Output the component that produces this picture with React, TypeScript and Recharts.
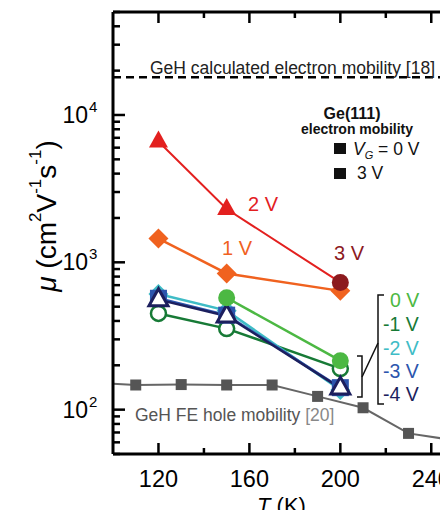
import { LineChart, Line, XAxis, YAxis, ReferenceLine } from "recharts";

// temperatures (K)
const T3 = [120, 150, 200];
const T0V = [150, 200];
const T3V = [200];
const feT = [100, 110, 130, 150, 170, 190, 210, 230, 250];

// mobilities (cm2/Vs)
const mu2V = [6600, 2300, 730];
const mu1V = [1450, 840, 640];
const mu3V = [730];
const mu0V = [575, 215];
const muM1V = [450, 355, 190];
const muM2V = [610, 470, 136];
const muM3V = [570, 438, 141];
const muM4V = [558, 432, 140];
const feMu = [150, 147, 148, 147, 147, 123, 103, 69, 62];
const calcMu = 18000;

const xTicks = [120, 140, 160, 180, 200, 220, 240];
const xLabels = [120, 160, 200, 240];
const yTicks = [
  50, 60, 70, 80, 90, 100, 200, 300, 400, 500, 600, 700, 800, 900, 1000, 2000, 3000, 4000, 5000,
  6000, 7000, 8000, 9000, 10000, 20000, 30000, 40000, 50000,
];
const yLabels = [100, 1000, 10000];

const pts = (t: number[], m: number[]) => t.map((T, i) => ({ T, mu: m[i] }));

const RED = "#e3201f";
const ORANGE = "#f0621f";
const DARKRED = "#8c1a1e";
const GREEN = "#4cb843";
const DKGREEN = "#177a36";
const CYAN = "#3fbcc6";
const BLUE = "#2c55ad";
const NAVY = "#1c1f5e";
const GRAY = "#555";

const tri = (cx: number, cy: number) => `${cx},${cy - 11} ${cx - 9.5},${cy + 6} ${cx + 9.5},${cy + 6}`;
const dia = (cx: number, cy: number, r: number) =>
  `${cx},${cy - r} ${cx + r},${cy} ${cx},${cy + r} ${cx - r},${cy}`;

function XTick(props: any) {
  const { x, y, payload, top } = props;
  const major = xLabels.includes(payload.value);
  const len = major ? 11 : 6;
  return (
    <g>
      <line x1={x} x2={x} y1={y} y2={top ? y + len : y - len} stroke="#000" strokeWidth={2.5} />
      {!top && major && (
        <text x={x} y={y + 33} textAnchor="middle" fontSize={23.5} fill="#000">
          {payload.value}
        </text>
      )}
    </g>
  );
}

function YTick(props: any) {
  const { x, y, payload, right } = props;
  const major = yLabels.includes(payload.value);
  const len = right ? (major ? 14 : 9) : major ? 12 : 7;
  return (
    <g>
      <line x1={x} x2={right ? x - len : x + len} y1={y} y2={y} stroke="#000" strokeWidth={2.5} />
      {!right && major && (
        <g fill="#000">
          <text x={x - 25} y={y + 8} textAnchor="end" fontSize={23}>
            10
          </text>
          <text x={x - 24} y={y - 3} fontSize={15}>
            {Math.round(Math.log10(payload.value))}
          </text>
        </g>
      )}
    </g>
  );
}

export default function App() {
  return (
    <div
      style={{
        position: "relative",
        width: 448,
        height: 518,
        overflow: "hidden",
        margin: -8,
        background: "#fff",
        fontFamily: "'Liberation Sans', Arial, sans-serif",
      }}
    >
      <LineChart width={480} height={518} margin={{ top: 11, right: 0, bottom: 34, left: 53 }}>
        <XAxis
          xAxisId="b"
          type="number"
          dataKey="T"
          domain={[100, 250]}
          allowDataOverflow
          ticks={xTicks}
          interval={0}
          tickSize={0}
          tickMargin={0}
          height={30}
          axisLine={{ stroke: "#000", strokeWidth: 3 }}
          tick={<XTick />}
        />
        <XAxis
          xAxisId="t"
          orientation="top"
          type="number"
          dataKey="T"
          domain={[100, 250]}
          allowDataOverflow
          ticks={xTicks}
          interval={0}
          tickSize={0}
          tickMargin={0}
          height={1}
          axisLine={{ stroke: "#000", strokeWidth: 3 }}
          tick={<XTick top />}
        />
        <YAxis
          yAxisId="l"
          scale="log"
          domain={[50, 50000]}
          allowDataOverflow
          ticks={yTicks}
          interval={0}
          tickSize={0}
          tickMargin={0}
          width={60}
          axisLine={{ stroke: "#000", strokeWidth: 3 }}
          tick={<YTick />}
        />
        <YAxis
          yAxisId="r"
          orientation="right"
          scale="log"
          domain={[50, 50000]}
          allowDataOverflow
          ticks={yTicks}
          interval={0}
          tickSize={0}
          tickMargin={0}
          width={26}
          axisLine={{ stroke: "#000", strokeWidth: 3 }}
          tick={<YTick right />}
        />
        <ReferenceLine
          xAxisId="b"
          yAxisId="l"
          y={calcMu}
          stroke="#000"
          strokeWidth={2.5}
          strokeDasharray="8 5"
        />
        <Line
          xAxisId="b"
          yAxisId="l"
          data={pts(feT, feMu)}
          dataKey="mu"
          stroke="#666"
          strokeWidth={2}
          isAnimationActive={false}
          activeDot={false}
          dot={(p: any) =>
            p.payload.T > 100 && p.payload.T < 250 ? (
              <rect key={p.index} x={p.cx - 5.5} y={p.cy - 5.5} width={11} height={11} fill={GRAY} />
            ) : (
              <g key={p.index} />
            )
          }
        />
        <Line
          xAxisId="b"
          yAxisId="l"
          data={pts(T3, muM1V)}
          dataKey="mu"
          stroke={DKGREEN}
          strokeWidth={2.5}
          isAnimationActive={false}
          activeDot={false}
          dot={(p: any) => (
            <circle key={p.index} cx={p.cx} cy={p.cy} r={7.5} fill="#fff" stroke={DKGREEN} strokeWidth={2.5} />
          )}
        />
        <Line
          xAxisId="b"
          yAxisId="l"
          data={pts(T3, muM2V)}
          dataKey="mu"
          stroke={CYAN}
          strokeWidth={2.5}
          isAnimationActive={false}
          activeDot={false}
          dot={(p: any) => <polygon key={p.index} points={dia(p.cx, p.cy, 10)} fill={CYAN} />}
        />
        <Line
          xAxisId="b"
          yAxisId="l"
          data={pts(T3, muM3V)}
          dataKey="mu"
          stroke={BLUE}
          strokeWidth={2.5}
          isAnimationActive={false}
          activeDot={false}
          dot={(p: any) => (
            <rect key={p.index} x={p.cx - 8.5} y={p.cy - 8.5} width={17} height={17} fill={BLUE} />
          )}
        />
        <Line
          xAxisId="b"
          yAxisId="l"
          data={pts(T3, muM4V)}
          dataKey="mu"
          stroke={NAVY}
          strokeWidth={2.5}
          isAnimationActive={false}
          activeDot={false}
          dot={(p: any) => (
            <polygon key={p.index} points={tri(p.cx, p.cy)} fill="#fff" stroke={NAVY} strokeWidth={3} />
          )}
        />
        <Line
          xAxisId="b"
          yAxisId="l"
          data={pts(T0V, mu0V)}
          dataKey="mu"
          stroke={GREEN}
          strokeWidth={2.5}
          isAnimationActive={false}
          activeDot={false}
          dot={(p: any) => <circle key={p.index} cx={p.cx} cy={p.cy} r={8.5} fill={GREEN} />}
        />
        <Line
          xAxisId="b"
          yAxisId="l"
          data={pts(T3, mu1V)}
          dataKey="mu"
          stroke={ORANGE}
          strokeWidth={2.5}
          isAnimationActive={false}
          activeDot={false}
          dot={(p: any) => <polygon key={p.index} points={dia(p.cx, p.cy, 10)} fill={ORANGE} />}
        />
        <Line
          xAxisId="b"
          yAxisId="l"
          data={pts(T3, mu2V)}
          dataKey="mu"
          stroke={RED}
          strokeWidth={2}
          isAnimationActive={false}
          activeDot={false}
          dot={(p: any) =>
            p.index < 2 ? <polygon key={p.index} points={tri(p.cx, p.cy)} fill={RED} /> : <g key={p.index} />
          }
        />
        <Line
          xAxisId="b"
          yAxisId="l"
          data={pts(T3V, mu3V)}
          dataKey="mu"
          stroke={DARKRED}
          isAnimationActive={false}
          activeDot={false}
          dot={(p: any) => <circle key={p.index} cx={p.cx} cy={p.cy} r={8.5} fill={DARKRED} />}
        />
      </LineChart>

      <svg
        width={448}
        height={518}
        style={{ position: "absolute", left: 0, top: 0, pointerEvents: "none" }}
      >
        <text x={150} y={74} fontSize={17.5} fill="#222">
          GeH calculated electron mobility [18]
        </text>
        <text x={135} y={421} fontSize={17.5} fill="#555">
          GeH FE hole mobility <tspan fill="#888">[20]</tspan>
        </text>

        <text x={352} y={119} textAnchor="middle" fontSize={16} fontWeight="bold" fill="#111">
          Ge(111)
        </text>
        <text x={357} y={134} textAnchor="middle" fontSize={14} fontWeight="bold" fill="#111">
          electron mobility
        </text>
        <rect x={334} y={143} width={12} height={11} fill="#111" />
        <text x={353} y={155} fontSize={17.5} fill="#111">
          <tspan fontStyle="italic">V</tspan>
          <tspan fontSize={11} fontStyle="italic" dy={4}>
            G
          </tspan>
          <tspan dy={-4}> = 0 V</tspan>
        </text>
        <rect x={334} y={168} width={12} height={11} fill="#111" />
        <text x={357} y={179} fontSize={17.5} fill="#111">
          3 V
        </text>

        <text x={248} y={211} fontSize={20} fill={RED}>
          2 V
        </text>
        <text x={222} y={255} fontSize={20} fill={ORANGE}>
          1 V
        </text>
        <text x={334} y={260} fontSize={20} fill={DARKRED}>
          3 V
        </text>

        <path d="M357,356 H362 V397 H357" fill="none" stroke="#111" strokeWidth={1.5} />
        <path d="M384,295 H378 V404 H384" fill="none" stroke="#111" strokeWidth={1.5} />
        <line x1={362} y1={377} x2={378} y2={343} stroke="#111" strokeWidth={1.5} />
        <text x={390} y={307} fontSize={19.5} fill={GREEN}>
          0 V
        </text>
        <text x={383} y={331} fontSize={19.5} fill={DKGREEN}>
          -1 V
        </text>
        <text x={383} y={355} fontSize={19.5} fill={CYAN}>
          -2 V
        </text>
        <text x={383} y={378} fontSize={19.5} fill={BLUE}>
          -3 V
        </text>
        <text x={383} y={401} fontSize={19.5} fill={NAVY}>
          -4 V
        </text>

        <text transform="translate(56,216) rotate(-90)" textAnchor="middle" fontSize={28} fill="#000">
          <tspan fontStyle="italic">μ</tspan>
          <tspan> (cm</tspan>
          <tspan fontSize={17} dy={-15}>
            2
          </tspan>
          <tspan dy={15}>V</tspan>
          <tspan fontSize={17} dy={-15}>
            -1
          </tspan>
          <tspan dy={15}>s</tspan>
          <tspan fontSize={17} dy={-15}>
            -1
          </tspan>
          <tspan dy={15}>)</tspan>
        </text>

        <text x={257} y={513} fontSize={22} fill="#000">
          <tspan fontStyle="italic">T</tspan>
          <tspan>  (K)</tspan>
        </text>
      </svg>
    </div>
  );
}
